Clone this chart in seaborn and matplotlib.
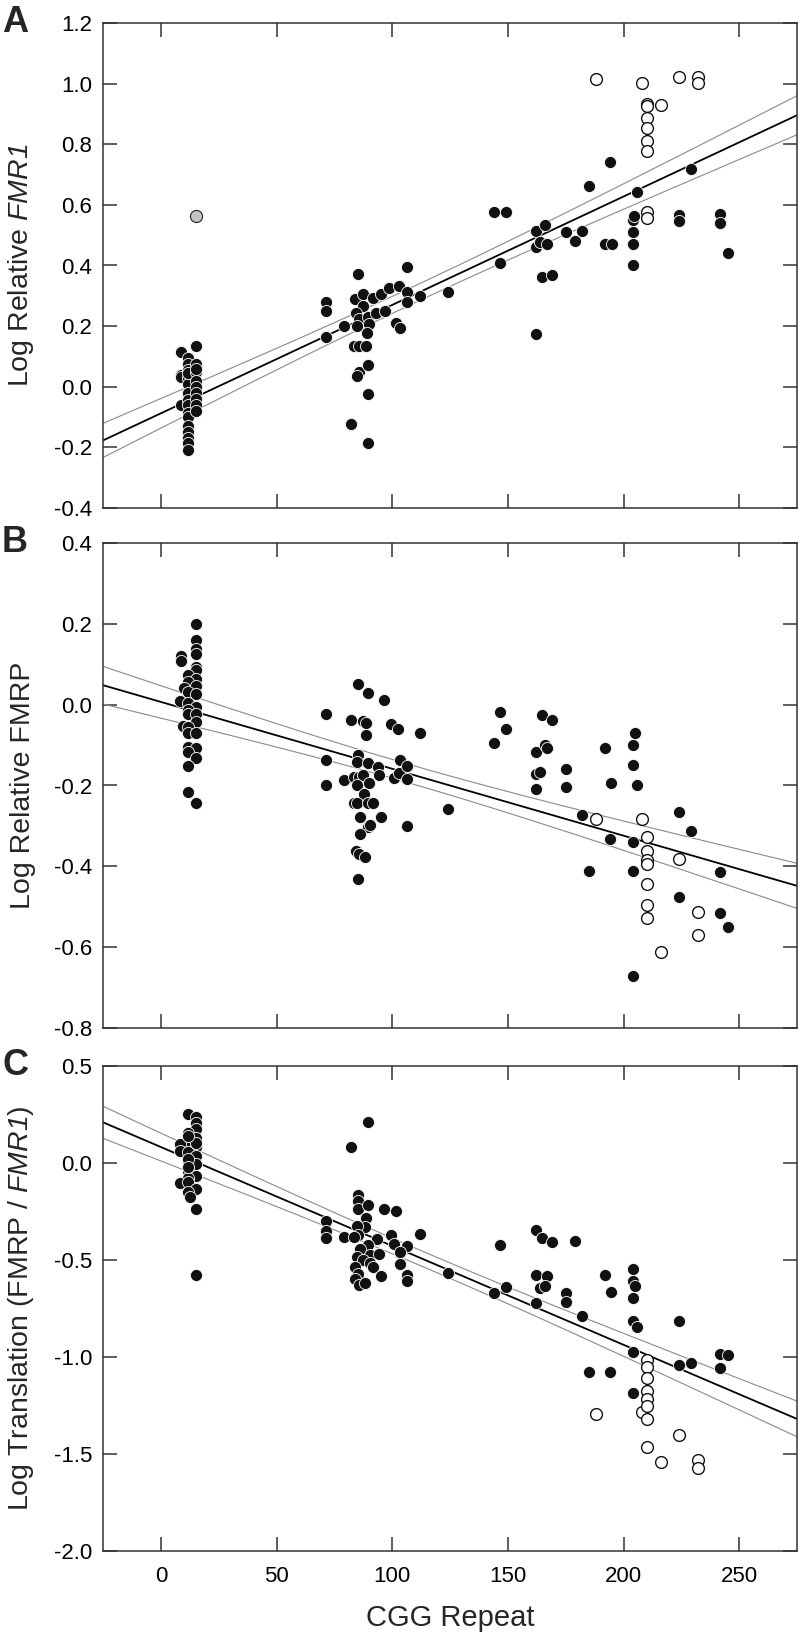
import numpy as np
import pandas as pd
import matplotlib
matplotlib.use("Agg")
import matplotlib.pyplot as plt
import seaborn as sns

sns.set_theme(style="white")
plt.rcParams["font.family"] = ["Liberation Sans", "DejaVu Sans"]
plt.rcParams["axes.unicode_minus"] = False
plt.rcParams["mathtext.fontset"] = "custom"
plt.rcParams["mathtext.rm"] = "Liberation Sans:italic"
plt.rcParams["mathtext.it"] = "Liberation Sans:italic"

# ---------------- data ----------------
# Panel A : Log Relative FMR1
A_fill_x = [8.7, 8.7, 8.7, 8.7,
            11.9, 11.9, 11.9, 11.9, 11.9, 11.9, 11.9, 11.9, 11.9, 11.9, 11.9, 11.9, 11.9, 11.9, 11.9, 11.9,
            15.2, 15.2, 15.2, 15.2, 15.2, 15.2, 15.2, 15.2, 15.2, 15.2,
            71.3, 71.3, 71.3, 79.3, 82.2, 85.4, 83.9, 87.2, 91.6, 95.2, 98.8, 102.9, 87.2, 84.3, 85.8,
            89.4, 93.0, 96.7, 85.0, 90.1, 89.1, 101.5, 83.6, 85.8, 88.7, 85.8, 85.0, 89.4, 89.4, 89.4,
            106.2, 106.2, 106.2, 103.6, 112.2, 124.2,
            144.0, 149.0, 146.8, 162.0, 166.0, 162.0, 164.0, 167.0, 164.8, 169.2, 162.0, 175.0, 179.0,
            182.1, 185.0, 191.9, 195.1, 194.1, 204.0, 204.0, 204.0, 204.0, 204.5, 206.0, 224.0, 224.0,
            229.0, 241.9, 241.9, 245.1]
A_fill_y = [0.115, 0.040, 0.032, -0.060,
            0.095, 0.075, 0.055, 0.030, 0.010, -0.020, -0.045, -0.060, -0.085, -0.100, -0.130, -0.150,
            -0.170, -0.185, -0.210, 0.045,
            0.135, 0.075, 0.050, 0.020, 0.000, -0.020, -0.040, -0.060, -0.080, 0.060,
            0.280, 0.251, 0.163, 0.199, -0.123, 0.372, 0.290, 0.305, 0.293, 0.305, 0.325, 0.331, 0.266,
            0.242, 0.225, 0.231, 0.242, 0.251, 0.200, 0.207, 0.178, 0.210, 0.136, 0.136, 0.136, 0.048,
            0.036, 0.071, -0.023, -0.184,
            0.396, 0.313, 0.278, 0.195, 0.298, 0.313,
            0.578, 0.578, 0.407, 0.514, 0.532, 0.461, 0.479, 0.472, 0.363, 0.370, 0.175, 0.510, 0.482,
            0.514, 0.661, 0.472, 0.472, 0.741, 0.549, 0.510, 0.472, 0.402, 0.563, 0.643, 0.567, 0.547,
            0.718, 0.570, 0.541, 0.441]
A_open_x = [187.9, 208.1, 210.0, 210.0, 216.0, 210.0, 210.0, 210.0, 210.0, 210.0, 210.0, 224.0, 232.1, 232.1]
A_open_y = [1.015, 1.003, 0.932, 0.926, 0.930, 0.887, 0.852, 0.811, 0.779, 0.576, 0.558, 1.021, 1.021, 1.003]
A_grey_x = [15.2]
A_grey_y = [0.563]

# Panel B : Log Relative FMRP
B_fill_x = [15.1, 15.1, 15.1, 15.1, 8.75, 8.75, 15.1, 15.1, 11.9, 15.1, 11.9, 15.1, 10.2, 11.9, 15.1,
            8.3, 11.9, 15.1, 11.9, 11.9, 15.1, 15.1, 9.5, 11.9, 11.9, 15.1, 11.9, 15.1, 11.9, 15.1,
            11.9, 11.9, 15.1,
            71.3, 71.3, 71.3, 79.3, 82.2, 85.4, 89.4, 96.4, 87.2, 88.7, 88.7, 85.4, 84.8, 89.4, 93.8,
            94.5, 83.6, 85.8, 87.2, 90.1, 85.0, 88.0, 83.3, 85.0, 89.4, 91.6, 86.2, 95.2, 89.4, 90.6,
            86.2, 84.3, 85.8, 88.4, 85.4, 99.3, 102.5, 103.2, 101.0, 102.9,
            112.2, 106.2, 106.2, 106.2, 124.2,
            144.0, 146.8, 149.0, 162.0, 164.8, 168.9, 166.0, 167.0, 162.0, 164.0, 162.0, 175.0, 175.0,
            182.1, 185.0, 191.9, 194.1, 194.8, 204.0, 204.9, 204.0, 206.0, 204.0, 204.0, 204.0,
            224.0, 224.0, 229.0, 241.9, 241.9, 245.1]
B_fill_y = [0.200, 0.161, 0.138, 0.125, 0.120, 0.107, 0.092, 0.085, 0.074, 0.064, 0.056, 0.046, 0.042,
            0.032, 0.027, 0.009, 0.003, -0.005, -0.014, -0.022, -0.022, -0.042, -0.052, -0.055, -0.071,
            -0.071, -0.104, -0.108, -0.116, -0.133, -0.151, -0.216, -0.244,
            -0.022, -0.138, -0.198, -0.187, -0.037, 0.050, 0.030, 0.012, -0.041, -0.045, -0.076, -0.125,
            -0.143, -0.144, -0.153, -0.173, -0.178, -0.180, -0.173, -0.194, -0.200, -0.222, -0.244,
            -0.244, -0.244, -0.244, -0.278, -0.278, -0.302, -0.297, -0.321, -0.362, -0.370, -0.377,
            -0.431, -0.048, -0.059, -0.138, -0.181, -0.169,
            -0.069, -0.151, -0.185, -0.299, -0.257,
            -0.094, -0.017, -0.060, -0.116, -0.025, -0.037, -0.101, -0.107, -0.171, -0.167, -0.209,
            -0.160, -0.203, -0.272, -0.412, -0.106, -0.332, -0.193, -0.099, -0.070, -0.149, -0.200,
            -0.341, -0.412, -0.672, -0.266, -0.476, -0.312, -0.415, -0.515, -0.549]
B_open_x = [187.9, 208.1, 210.0, 210.0, 210.0, 210.0, 210.0, 210.0, 210.0, 216.0, 224.0, 232.1, 232.1]
B_open_y = [-0.284, -0.282, -0.328, -0.363, -0.385, -0.394, -0.443, -0.496, -0.529, -0.612, -0.383,
            -0.513, -0.569]

# Panel C : Log Translation (FMRP / FMR1)
C_fill_x = [11.9, 15.1, 15.1, 15.1, 11.9, 15.1, 11.9, 8.3, 15.1, 8.3, 11.9, 15.1, 11.9, 15.1, 11.9,
            15.1, 11.9, 8.3, 11.9, 15.1, 11.9, 12.8, 15.1, 15.1, 11.9, 15.1, 11.9, 11.9,
            71.3, 71.3, 71.3, 79.3, 82.2, 89.4, 85.4, 85.4, 85.4, 89.4, 96.4, 101.7, 88.7, 88.4, 84.8,
            85.4, 83.6, 93.5, 99.3, 89.4, 101.0, 86.2, 90.6, 94.5, 84.8, 103.2, 87.4, 90.6, 103.2,
            83.9, 91.6, 95.2, 85.4, 83.9, 85.8, 88.4,
            106.2, 103.6, 106.2, 106.2, 112.2, 124.2,
            144.0, 146.8, 149.0, 162.0, 164.8, 168.9, 162.0, 167.0, 164.0, 166.0, 162.0, 175.0, 175.0,
            179.0, 182.1, 185.0, 191.9, 194.1, 194.8, 204.0, 204.0, 204.9, 204.0, 204.0, 206.0, 204.0,
            204.0, 224.0, 224.0, 229.0, 241.9, 245.1, 241.9]
C_fill_y = [0.254, 0.237, 0.208, 0.174, 0.157, 0.131, 0.111, 0.097, 0.080, 0.063, 0.055, 0.038, 0.012,
            -0.005, -0.039, -0.065, -0.077, -0.104, -0.099, -0.133, -0.150, -0.176, -0.235, -0.577,
            0.020, 0.105, -0.020, 0.140,
            -0.301, -0.351, -0.388, -0.384, 0.083, 0.212, -0.163, -0.194, -0.236, -0.218, -0.236,
            -0.249, -0.283, -0.329, -0.323, -0.373, -0.384, -0.393, -0.373, -0.425, -0.416, -0.443,
            -0.476, -0.471, -0.486, -0.465, -0.499, -0.513, -0.521, -0.536, -0.536, -0.582, -0.572,
            -0.600, -0.628, -0.619,
            -0.428, -0.458, -0.576, -0.609, -0.366, -0.569,
            -0.670, -0.425, -0.641, -0.347, -0.388, -0.406, -0.576, -0.582, -0.643, -0.632, -0.724,
            -0.670, -0.715, -0.400, -0.789, -1.075, -0.578, -1.075, -0.665, -0.548, -0.609, -0.632,
            -0.698, -0.813, -0.846, -0.975, -1.187, -0.813, -1.043, -1.030, -0.984, -0.992, -1.056]
C_open_x = [187.9, 208.1, 210.0, 210.0, 210.0, 210.0, 210.0, 210.0, 210.0, 210.0, 216.0, 224.0, 232.1, 232.1]
C_open_y = [-1.296, -1.283, -1.016, -1.053, -1.108, -1.173, -1.219, -1.252, -1.320, -1.463, -1.542,
            -1.400, -1.529, -1.570]

x_ticks = [0, 50, 100, 150, 200, 250]
x_limits = (-25, 275)
A_ticks = [-0.4, -0.2, 0.0, 0.2, 0.4, 0.6, 0.8, 1.0, 1.2]
B_ticks = [-0.8, -0.6, -0.4, -0.2, 0.0, 0.2, 0.4]
C_ticks = [-2.0, -1.5, -1.0, -0.5, 0.0, 0.5]

panels = [
    dict(letter="A", fx=A_fill_x, fy=A_fill_y, ox=A_open_x, oy=A_open_y, gx=A_grey_x, gy=A_grey_y,
         ticks=A_ticks, ylabel="Log Relative $FMR1$"),
    dict(letter="B", fx=B_fill_x, fy=B_fill_y, ox=B_open_x, oy=B_open_y, gx=[], gy=[],
         ticks=B_ticks, ylabel="Log Relative FMRP"),
    dict(letter="C", fx=C_fill_x, fy=C_fill_y, ox=C_open_x, oy=C_open_y, gx=[], gy=[],
         ticks=C_ticks, ylabel="Log Translation (FMRP / $FMR1$)"),
]

# ---------------- figure ----------------
W, H = 800, 1642
fig = plt.figure(figsize=(W / 100, H / 100), dpi=100)
left, right = 103, 797
tops = [23, 543, 1066]
height = 485
spine_col = "#333333"


def ols_band(x, y, grid, t=1.98):
    x = np.asarray(x, float)
    y = np.asarray(y, float)
    n = len(x)
    b, a = np.polyfit(x, y, 1)
    res = y - (a + b * x)
    s = np.sqrt(np.sum(res ** 2) / (n - 2))
    xm = x.mean()
    sxx = np.sum((x - xm) ** 2)
    se = s * np.sqrt(1.0 / n + (grid - xm) ** 2 / sxx)
    yh = a + b * grid
    return yh, yh - t * se, yh + t * se


for i, p in enumerate(panels):
    top = tops[i]
    ax = fig.add_axes([left / W, 1 - (top + height) / H, (right - left) / W, height / H])
    ax.set_facecolor("white")

    allx = list(p["fx"]) + list(p["ox"])
    ally = list(p["fy"]) + list(p["oy"])
    grid = np.linspace(x_limits[0], x_limits[1], 300)
    yh, lo, hi = ols_band(allx, ally, grid)
    ax.plot(grid, lo, color="#8a8a8a", lw=0.8, zorder=2)
    ax.plot(grid, hi, color="#8a8a8a", lw=0.8, zorder=2)
    ax.plot(grid, yh, color="black", lw=1.3, zorder=2)

    dfill = pd.DataFrame({"x": p["fx"], "y": p["fy"]})
    sns.scatterplot(data=dfill, x="x", y="y", ax=ax, s=76, color="#111111",
                    edgecolor="white", linewidth=0.6, zorder=3, legend=False)
    dopen = pd.DataFrame({"x": p["ox"], "y": p["oy"]})
    sns.scatterplot(data=dopen, x="x", y="y", ax=ax, s=72, facecolor="white",
                    edgecolor="#111111", linewidth=1.0, zorder=4, legend=False)
    if p["gx"]:
        dgrey = pd.DataFrame({"x": p["gx"], "y": p["gy"]})
        sns.scatterplot(data=dgrey, x="x", y="y", ax=ax, s=76, facecolor="#c4c4c4",
                        edgecolor="#222222", linewidth=0.8, zorder=4, legend=False)

    ax.set_xlim(*x_limits)
    ax.set_ylim(p["ticks"][0], p["ticks"][-1])
    ax.set_xticks(x_ticks)
    ax.set_yticks(p["ticks"])
    ax.set_yticklabels([f"{v:.1f}" for v in p["ticks"]])
    ax.tick_params(direction="in", length=10, width=1.1, color=spine_col,
                   top=True, right=True, bottom=True, left=True, labelsize=16,
                   labelcolor="black")
    ax.tick_params(axis="y", pad=8)
    ax.tick_params(axis="x", pad=11)
    for sp in ax.spines.values():
        sp.set_color(spine_col)
        sp.set_linewidth(1.1)
        sp.set_visible(True)
    if i < 2:
        ax.set_xticklabels([])
        ax.set_xlabel("")
    else:
        ax.set_xticklabels([str(v) for v in x_ticks])
        ax.set_xlabel("CGG Repeat", fontsize=21, labelpad=12)
    ax.set_ylabel(p["ylabel"], fontsize=20.5)
    ax.yaxis.set_label_coords(-0.097, 0.5)
    ax.grid(False)

    fig.text(2 / W, 1 - (top - 18) / H, p["letter"], fontsize=26, fontweight="bold",
             ha="left", va="top")

fig.savefig("out.png", dpi=100, facecolor="white")
